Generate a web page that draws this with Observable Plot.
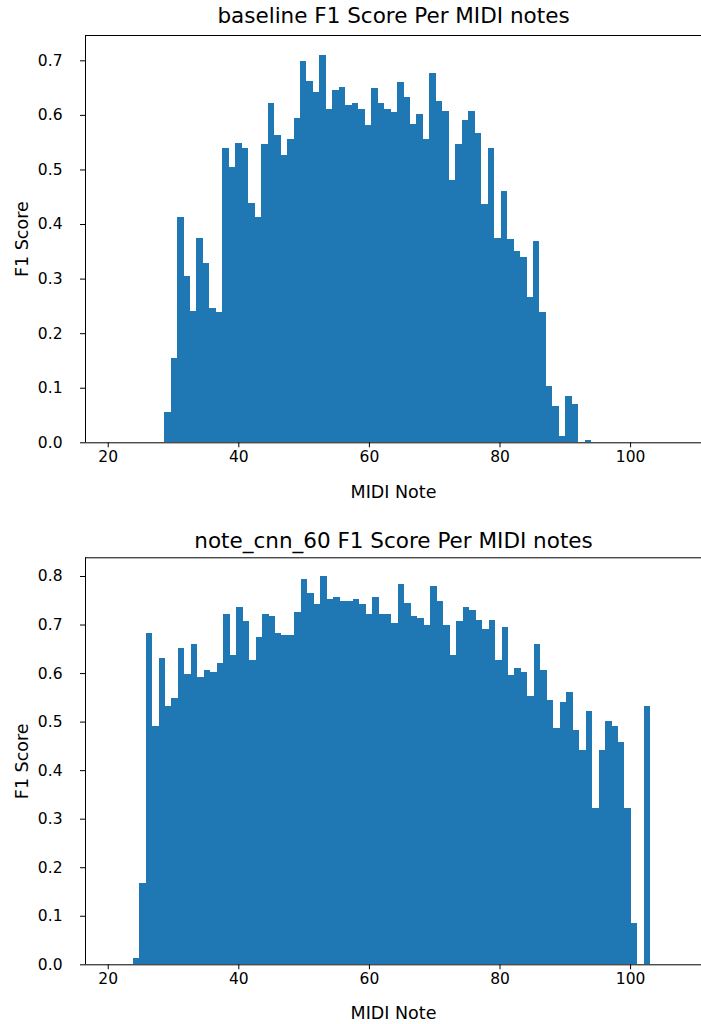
<!DOCTYPE html>
<html><head><meta charset="utf-8">
<script src="https://cdn.jsdelivr.net/npm/d3@7"></script>
<script src="https://cdn.jsdelivr.net/npm/@observablehq/plot@0.6"></script>
<style>body{margin:0;background:#fff;} svg{display:block;} #chart{width:701px;}</style>
</head><body><div id="chart"></div>
<script>
// ---- data ----
const baselineTitle = "baseline F1 Score Per MIDI notes";
const baselineFirstNote = 29;
const baselineF1 = [
  0.056, 0.155, 0.412, 0.305, 0.241, 0.374, 0.329, 0.247, 0.238, 0.539,
  0.505, 0.549, 0.539, 0.439, 0.412, 0.546, 0.621, 0.563, 0.526, 0.556,
  0.594, 0.699, 0.663, 0.642, 0.710, 0.611, 0.645, 0.652, 0.618, 0.622,
  0.611, 0.581, 0.649, 0.622, 0.611, 0.605, 0.660, 0.632, 0.584, 0.601,
  0.556, 0.676, 0.625, 0.608, 0.481, 0.546, 0.591, 0.608, 0.566, 0.437,
  0.539, 0.375, 0.460, 0.372, 0.351, 0.340, 0.266, 0.368, 0.238, 0.104,
  0.067, 0.012, 0.084, 0.070, 0.000, 0.004
];
const cnnTitle = "note_cnn_60 F1 Score Per MIDI notes";
const cnnFirstNote = 24;
const cnnF1 = [
  0.013, 0.167, 0.683, 0.491, 0.632, 0.533, 0.549, 0.652, 0.599, 0.659,
  0.591, 0.606, 0.602, 0.621, 0.721, 0.637, 0.736, 0.707, 0.626, 0.675,
  0.721, 0.717, 0.683, 0.679, 0.679, 0.726, 0.794, 0.764, 0.742, 0.799,
  0.753, 0.756, 0.748, 0.748, 0.753, 0.742, 0.722, 0.756, 0.722, 0.722,
  0.703, 0.784, 0.745, 0.718, 0.714, 0.698, 0.780, 0.748, 0.698, 0.637,
  0.707, 0.737, 0.729, 0.710, 0.691, 0.710, 0.626, 0.694, 0.595, 0.610,
  0.602, 0.553, 0.659, 0.606, 0.545, 0.487, 0.540, 0.560, 0.483, 0.441,
  0.521, 0.322, 0.441, 0.502, 0.490, 0.457, 0.322, 0.086, 0.000, 0.533
];
const xTicks = [20, 40, 60, 80, 100];
const baselineYTicks = [0.0, 0.1, 0.2, 0.3, 0.4, 0.5, 0.6, 0.7];
const cnnYTicks = [0.0, 0.1, 0.2, 0.3, 0.4, 0.5, 0.6, 0.7, 0.8];
const xLabel = "MIDI Note";
const yLabel = "F1 Score";

// ---- drawing ----
const FONT = "DejaVu Sans";
const BLUE = "#1f77b4";
const X_DOMAIN = [16.52, 110.86];
const BIN_WIDTH = 0.991;

function panel({title, firstNote, values, binStart, yMax, yTicks, height, marginTop, marginBottom, titleDy, xLabelDy}) {
  const rows = values.map((v, i) => ({note: firstNote + i, f1: v}));
  const x1 = d => binStart + (d.note - firstNote) * BIN_WIDTH;
  const x2 = d => binStart + (d.note - firstNote + 1) * BIN_WIDTH;
  return Plot.plot({
    width: 701, height, marginLeft: 85, marginRight: 0, marginTop, marginBottom,
    style: {fontFamily: FONT, fontSize: "15.5px", color: "#000", background: "#fff", overflow: "visible"},
    x: {domain: X_DOMAIN},
    y: {domain: [0, yMax]},
    marks: [
      Plot.rectY(rows, {x1, x2, y1: 0, y2: "f1", fill: BLUE, inset: 0, shapeRendering: "crispEdges"}),
      Plot.axisX({ticks: xTicks, tickSize: 5, tickPadding: 3, label: null, tickFormat: d => String(d), fontSize: 15.5, stroke: "#000"}),
      Plot.axisY({ticks: yTicks, tickSize: 5, tickPadding: 18, label: null, tickFormat: d3.format(".1f"), fontSize: 15.5, stroke: "#000"}),
      Plot.ruleX([X_DOMAIN[0]], {stroke: "#000", strokeWidth: 1}),
      Plot.ruleY([0, yMax], {stroke: "#000", strokeWidth: 1}),
      Plot.text([title], {frameAnchor: "top", dy: titleDy, lineAnchor: "middle", textAnchor: "middle", fontSize: 21.5, fill: "#000"}),
      Plot.text([xLabel], {frameAnchor: "bottom", dy: xLabelDy, lineAnchor: "middle", textAnchor: "middle", fontSize: 17.5, fill: "#000"}),
      Plot.text([yLabel], {frameAnchor: "left", dx: -63, rotate: -90, lineAnchor: "middle", textAnchor: "middle", fontSize: 17.5, fill: "#000"})
    ]
  });
}

const root = document.getElementById("chart");
root.append(panel({
  title: baselineTitle, firstNote: baselineFirstNote, values: baselineF1, binStart: 28.64,
  yMax: 0.7464, yTicks: baselineYTicks, height: 518, marginTop: 35, marginBottom: 75.7,
  titleDy: -19, xLabelDy: 50
}));
root.append(panel({
  title: cnnTitle, firstNote: cnnFirstNote, values: cnnF1, binStart: 23.82,
  yMax: 0.8385, yTicks: cnnYTicks, height: 506, marginTop: 39.3, marginBottom: 59.7,
  titleDy: -16.3, xLabelDy: 48.7
}));
</script>
</body></html>
